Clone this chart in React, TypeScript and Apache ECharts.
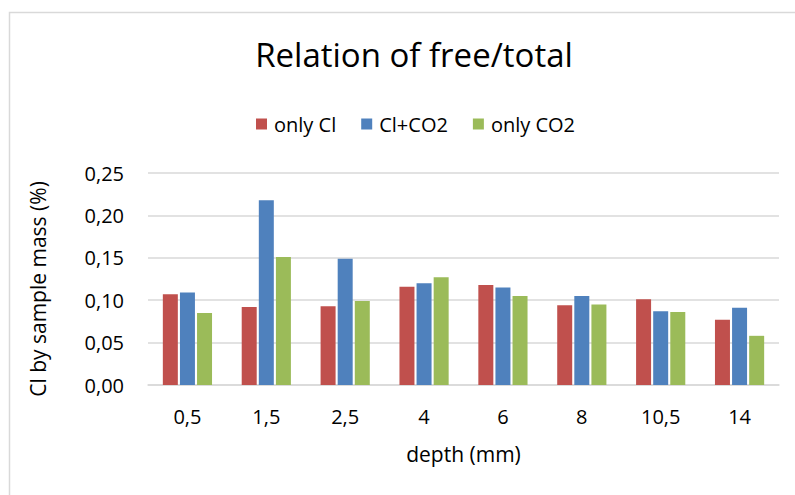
import React, { useEffect, useRef } from "react";
import * as echarts from "echarts";

const categories = ["0,5", "1,5", "2,5", "4", "6", "8", "10,5", "14"];
const onlyCl = [0.107, 0.092, 0.093, 0.116, 0.118, 0.094, 0.101, 0.077];
const clCo2 = [0.109, 0.218, 0.149, 0.12, 0.115, 0.105, 0.087, 0.091];
const onlyCo2 = [0.085, 0.151, 0.099, 0.127, 0.105, 0.095, 0.086, 0.058];
const seriesNames = ["only Cl", "Cl+CO2", "only CO2"];
const colors = ["#C0504D", "#4F81BD", "#9BBB59"];
const yAxisTitle = "Cl by sample mass (%)";

const FONT = "'Open Sans', 'Noto Sans', sans-serif";

export default function App() {
  const ref = useRef<HTMLDivElement>(null);
  useEffect(() => {
    if (!ref.current) return;
    const chart = echarts.init(ref.current, null, { renderer: "svg" });
    const data = [onlyCl, clCo2, onlyCo2];
    chart.setOption({
      animation: false,
      backgroundColor: "#ffffff",
      textStyle: { fontFamily: FONT },
      title: {
        text: "Relation of free/total",
        left: 409,
        top: 33,
        textAlign: "center",
        textStyle: { fontFamily: FONT, fontSize: 33, fontWeight: "normal", color: "#000" },
      },
      legend: {
        top: 109,
        left: 251,
        itemWidth: 11,
        itemHeight: 11,
        itemGap: 25,
        icon: "rect",
        textStyle: { fontFamily: FONT, fontSize: 20, color: "#000", padding: [0, 0, 0, 2] },
        data: seriesNames,
      },
      grid: { left: 148, right: 16, top: 173, bottom: 110, containLabel: false },
      xAxis: {
        type: "category",
        data: categories,
        name: "depth (mm)",
        nameLocation: "middle",
        nameGap: 58,
        nameTextStyle: { fontFamily: FONT, fontSize: 21, color: "#000" },
        axisTick: { show: false },
        axisLine: { lineStyle: { color: "#D9D9D9", width: 1.5 } },
        axisLabel: { fontFamily: FONT, fontSize: 20, color: "#000", margin: 21 },
      },
      yAxis: {
        type: "value",
        min: 0,
        max: 0.25,
        interval: 0.05,
        axisLine: { show: false },
        axisTick: { show: false },
        splitLine: { lineStyle: { color: "#D9D9D9", width: 1.5 } },
        axisLabel: {
          fontFamily: FONT,
          fontSize: 20,
          color: "#000",
          margin: 24,
          formatter: (v: number) => v.toFixed(2).replace(".", ","),
        },
      },
      series: seriesNames.map((name, i) => ({
        name,
        type: "bar",
        data: data[i],
        barWidth: 15,
        barGap: "14%",
        itemStyle: { color: colors[i] },
      })),
      graphic: [
        {
          type: "rect",
          shape: { x: 9.5, y: 12.5, width: 820, height: 520 },
          style: { fill: "none", stroke: "#D9D9D9", lineWidth: 1.5 },
          silent: true,
        },
        {
          type: "text",
          x: 38,
          y: 289,
          rotation: Math.PI / 2,
          style: {
            text: yAxisTitle,
            fontFamily: FONT,
            fontSize: 21,
            fill: "#000",
            align: "center",
            verticalAlign: "middle",
          },
          silent: true,
        },
      ],
    });
    return () => chart.dispose();
  }, []);
  return (
    <div
      ref={ref}
      style={{ position: "absolute", left: 0, top: 0, width: 795, height: 495 }}
    />
  );
}
